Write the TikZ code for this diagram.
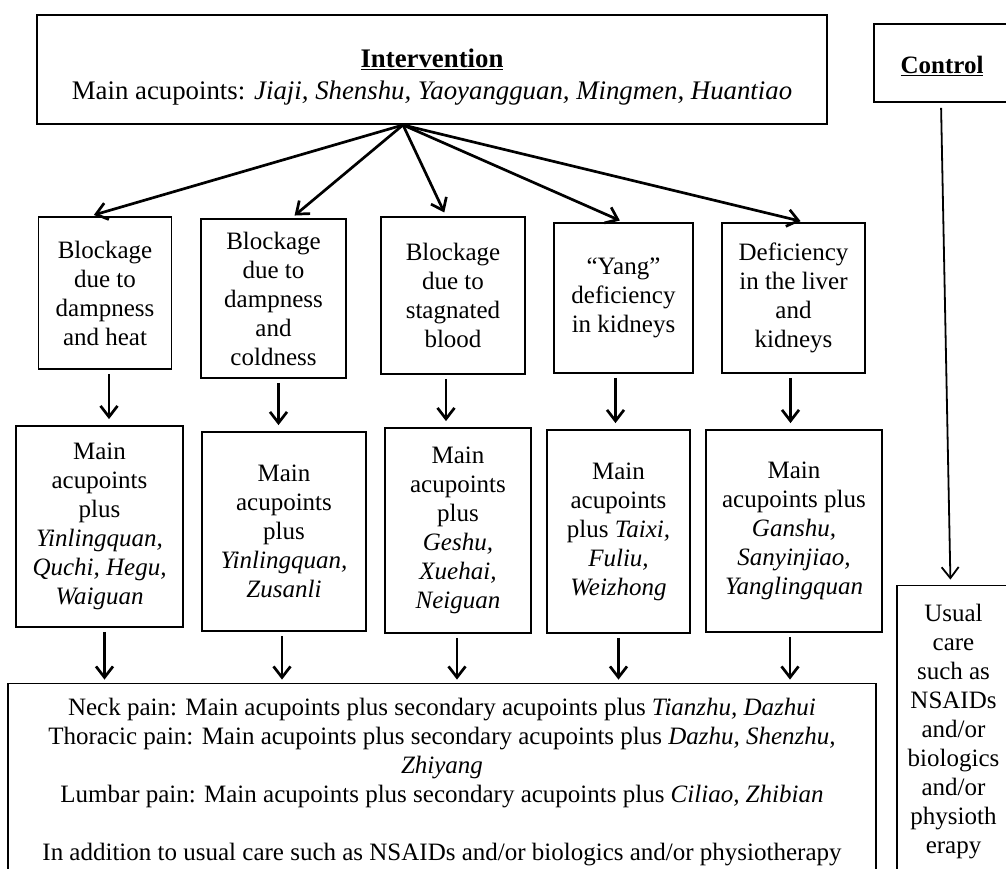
\documentclass[tikz,border=0pt]{standalone}
\usepackage{fontspec}
\setmainfont{Liberation Serif}
\usepackage{tikz}
\usetikzlibrary{arrows.meta}

\begin{document}
\begin{tikzpicture}[x=1pt,y=-1pt]
\tikzstyle{every node}+=[inner sep=0pt,align=center,font=\fontsize{25}{29}\selectfont]
\tikzstyle{box}=[draw,line width=1.8pt]
\tikzstyle{arr}=[line width=2.7pt,-{Straight Barb[length=11pt,width=17pt]}]
\useasboundingbox (0,0) rectangle (1006,869);
\clip (0,0) rectangle (1006,869);
\node [box,minimum width=790,minimum height=109,font=\fontsize{26.8}{32}\selectfont] (int) at (432,69.5) {\rule{0pt}{33pt}\textbf{\underline{Intervention}}\\ Main acupoints: \textit{Jiaji, Shenshu, Yaoyangguan, Mingmen, Huantiao}};
\node [box,minimum width=136,minimum height=78] (ctrl) at (942,63) {\rule{0pt}{24pt}\textbf{\underline{Control}}};
\coordinate (hub) at (403,125);
\node [box,minimum width=133,minimum height=152] (b1) at (105,293) {Blockage\\due to\\dampness\\and heat};
\node [box,minimum width=145,minimum height=159] (b2) at (273.5,298.5) {Blockage\\due to\\dampness\\and\\coldness};
\node [box,minimum width=144,minimum height=157] (b3) at (453,295.5) {Blockage\\due to\\stagnated\\blood};
\node [box,minimum width=139,minimum height=150] (b4) at (623.5,298) {``Yang''\\deficiency\\in kidneys};
\node [box,minimum width=143,minimum height=150] (b5) at (793.5,298) {Deficiency\\in the liver\\and\\kidneys};
\node [box,minimum width=167,minimum height=201] (m1) at (99.5,526.5) {Main\\acupoints\\plus\\\textit{Yinlingquan,}\\\textit{Quchi, Hegu,}\\\textit{Waiguan}};
\node [box,minimum width=164,minimum height=199] (m2) at (284,531.5) {Main\\acupoints\\plus\\\textit{Yinlingquan,}\\\textit{Zusanli}};
\node [box,minimum width=146,minimum height=205] (m3) at (458,530.5) {Main\\acupoints\\plus\\\textit{Geshu,}\\\textit{Xuehai,}\\\textit{Neiguan}};
\node [box,minimum width=143,minimum height=203] (m4) at (618.5,531.5) {Main\\acupoints\\plus \textit{Taixi,}\\\textit{Fuliu,}\\\textit{Weizhong}};
\node [box,minimum width=176,minimum height=202] (m5) at (794,531) {Main\\acupoints plus\\\textit{Ganshu,}\\\textit{Sanyinjiao,}\\\textit{Yanglingquan}};
\node [box,minimum width=868,minimum height=197] (pain) at (442,782) {Neck pain: Main acupoints plus secondary acupoints plus \textit{Tianzhu, Dazhui}\\Thoracic pain: Main acupoints plus secondary acupoints plus \textit{Dazhu, Shenzhu,}\\\textit{Zhiyang}\\Lumbar pain: Main acupoints plus secondary acupoints plus \textit{Ciliao, Zhibian}\\[29pt]In addition to usual care such as NSAIDs and/or biologics and/or physiotherapy};
\node [box,minimum width=113,minimum height=293] (usual) at (953.5,732) {Usual\\care\\such as\\NSAIDs\\and/or\\biologics\\and/or\\physioth\\erapy};
\draw [arr,shorten >=4pt] (hub) -- ([xshift=-15]b1.north);
\draw [arr,shorten >=4pt] (hub) -- ([xshift=18]b2.north);
\draw [arr,shorten >=4pt] (hub) -- ([xshift=-7]b3.north);
\draw [arr,shorten >=4pt] (hub) -- (b4.north);
\draw [arr,shorten >=4pt] (hub) -- ([xshift=11]b5.north);
\draw [arr,shorten <=4pt,shorten >=6pt] ([xshift=4]b1.south) -- ([xshift=4]b1.south |- m1.north);
\draw [arr,shorten <=4pt,shorten >=6pt] ([xshift=5]b2.south) -- ([xshift=5]b2.south |- m2.north);
\draw [arr,shorten <=4pt,shorten >=6pt] ([xshift=-7]b3.south) -- ([xshift=-7]b3.south |- m3.north);
\draw [arr,shorten <=4pt,shorten >=6pt] ([xshift=-8]b4.south) -- ([xshift=-8]b4.south |- m4.north);
\draw [arr,shorten <=4pt,shorten >=6pt] ([xshift=-3]b5.south) -- ([xshift=-3]b5.south |- m5.north);
\draw [arr,shorten <=4pt,shorten >=3pt] ([xshift=5]m1.south) -- ([xshift=5]m1.south |- pain.north);
\draw [arr,shorten <=4pt,shorten >=3pt] ([xshift=-2]m2.south) -- ([xshift=-2]m2.south |- pain.north);
\draw [arr,shorten <=4pt,shorten >=3pt] ([xshift=-1]m3.south) -- ([xshift=-1]m3.south |- pain.north);
\draw [arr,shorten <=4pt,shorten >=3pt] (m4.south) -- (m4.south |- pain.north);
\draw [arr,shorten <=4pt,shorten >=3pt] ([xshift=-4]m5.south) -- ([xshift=-4]m5.south |- pain.north);
\draw [arr,line width=1.8pt,shorten <=5pt,shorten >=5pt] ([xshift=-1]ctrl.south) -- ([xshift=-3]usual.north);
\end{tikzpicture}
\end{document}
